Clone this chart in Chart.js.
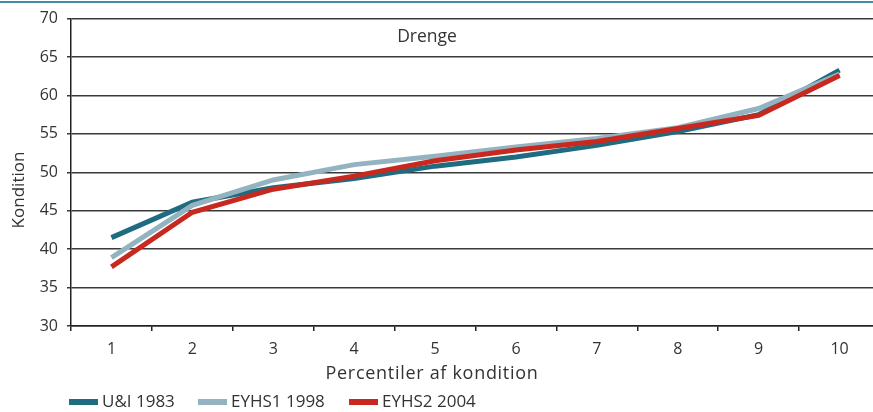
<!DOCTYPE html>
<html>
<head>
<meta charset="utf-8">
<script src="https://cdn.jsdelivr.net/npm/chart.js@4"></script>
<style>
html,body{margin:0;padding:0;background:#fff;overflow:hidden;}
#topline{position:absolute;left:0;top:1px;width:873px;height:2px;background:#3f8ea3;}
#wrap{position:absolute;left:0;top:0;width:880px;height:412px;}
</style>
</head>
<body>
<div id="wrap"><canvas id="c" width="880" height="412"></canvas></div>
<div id="topline"></div>
<script>
const categories = ['1','2','3','4','5','6','7','8','9','10'];
const ui1983 = [41.5, 46.1, 48.0, 49.2, 50.8, 52.0, 53.5, 55.3, 57.5, 63.3];
const eyhs1998 = [38.9, 45.7, 49.0, 51.0, 52.1, 53.3, 54.4, 55.8, 58.3, 62.8];
const eyhs2004 = [37.7, 44.8, 47.8, 49.5, 51.5, 52.9, 54.0, 55.7, 57.4, 62.6];
const seriesNames = ['U&I 1983', 'EYHS1 1998', 'EYHS2 2004'];
const colors = ['#1f6c80', '#93b3c1', '#c8281e'];
const yTicks = [30, 35, 40, 45, 50, 55, 60, 65, 70];
const xTitle = 'Percentiler af kondition';
const yTitle = 'Kondition';
const panelTitle = 'Drenge';

const FONT = '"Open Sans", "Noto Sans", sans-serif';
const TXT = '#333';

const texts = {
  id: 'texts',
  afterDraw(chart) {
    const ctx = chart.ctx;
    ctx.save();
    ctx.fillStyle = TXT;
    ctx.textAlign = 'center';
    // panel title
    ctx.font = '17.5px ' + FONT;
    ctx.textBaseline = 'alphabetic';
    ctx.fillText(panelTitle, 427, 42);
    // x-axis title
    ctx.font = '18px ' + FONT;
    ctx.letterSpacing = '0.7px';
    ctx.fillText(xTitle, 432, 379);
    ctx.letterSpacing = '0px';
    // y-axis title
    ctx.font = '17px ' + FONT;
    ctx.translate(24, 190);
    ctx.rotate(-Math.PI / 2);
    ctx.fillText(yTitle, 0, 0);
    ctx.restore();
  }
};

// legend drawn below the axis; item x positions follow the reference layout
const legendX = [69, 198, 349];
const bottomLegend = {
  id: 'bottomLegend',
  afterDraw(chart) {
    const ctx = chart.ctx;
    const yc = 402;
    ctx.save();
    ctx.font = '17px ' + FONT;
    ctx.textBaseline = 'middle';
    ctx.textAlign = 'left';
    chart.data.datasets.forEach((ds, i) => {
      const x = legendX[i];
      ctx.fillStyle = ds.borderColor;
      ctx.fillRect(x, yc - 3, 29, 6);
      ctx.fillStyle = TXT;
      ctx.fillText(ds.label, x + 33, yc);
    });
    ctx.restore();
  }
};

new Chart(document.getElementById('c'), {
  type: 'line',
  data: {
    labels: categories,
    datasets: [ui1983, eyhs1998, eyhs2004].map((d, i) => ({
      label: seriesNames[i],
      data: d,
      borderColor: colors[i],
      backgroundColor: colors[i],
      borderWidth: 5,
      pointRadius: 0,
      tension: 0,
      order: 3 - i,
      borderJoinStyle: 'miter'
    }))
  },
  plugins: [texts, bottomLegend],
  options: {
    responsive: false,
    animation: false,
    devicePixelRatio: 1,
    layout: { padding: { top: 10, left: 0, right: 0, bottom: 26 } },
    plugins: {
      legend: { display: false },
      tooltip: { enabled: false }
    },
    scales: {
      x: {
        offset: true,
        afterFit(s) { s.height = 60; },
        grid: { offset: true, drawOnChartArea: false, drawTicks: true, tickLength: 5, color: '#222', lineWidth: 1.5 },
        border: { color: '#222', width: 1.5 },
        ticks: { font: { family: FONT, size: 16 }, color: TXT, padding: 9, maxRotation: 0 }
      },
      y: {
        min: 30, max: 70,
        afterBuildTicks(s) { s.ticks = yTicks.map(v => ({ value: v })); },
        afterFit(s) { s.width = 71; },
        grid: { color: '#3a3a3a', lineWidth: 1.5, tickLength: 4 },
        border: { color: '#222', width: 1.5 },
        ticks: { font: { family: FONT, size: 16 }, color: TXT, padding: 9 }
      }
    }
  }
});
</script>
</body>
</html>
